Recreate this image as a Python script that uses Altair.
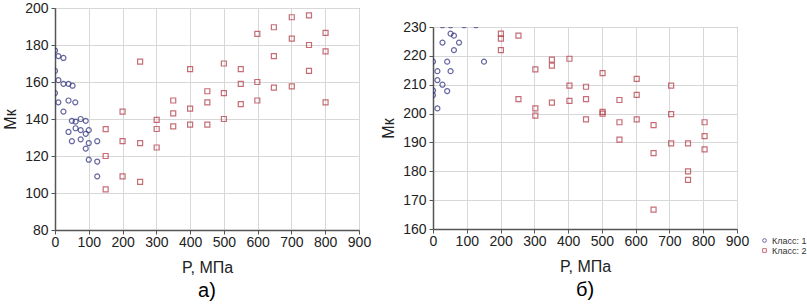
import altair as alt
import pandas as pd

# Panel a) data
a1_x = [0, 10, 25, 0, 10, 25, 40, 52, 0, 10, 60, 40, 25, 50, 61, 76, 91, 61, 76, 100, 40, 91, 50, 76, 100, 125, 91, 100, 125, 125]
a1_y = [177, 174, 173, 166, 161, 159, 159, 158, 154, 149, 149, 150, 144, 139, 138.6, 140, 139, 135, 134, 134, 133, 132, 128, 129, 127, 128, 124, 118, 117, 109]
a2_x = [150, 150, 150, 200, 200, 200, 252, 252, 252, 301, 301, 301, 350, 350, 350, 400, 400, 400, 451, 451, 451, 500, 500, 500, 550, 550, 550, 599, 599, 599, 648, 648, 648, 701, 701, 701, 752, 752, 752, 801, 801, 801]
a2_y = [134.5, 120, 102, 144, 128, 109, 171, 127, 106, 139.5, 134.6, 124.6, 150, 143, 136, 167, 145.6, 137, 155, 149, 137, 170, 154, 140, 167, 159, 148, 186, 160, 150, 189.6, 174, 157, 195, 183.5, 157.6, 196, 180, 166, 186.5, 176.6, 149]

# Panel б) data
b1_x = [28, 52, 92, 127, 52, 62, 28, 77, 62, 0, 42, 151, 13, 52, 13, 28, 0, 42, 0, 13]
b1_y = [230.6, 230.6, 230.6, 230.6, 227.7, 227, 224.6, 224.6, 222, 218, 218, 218, 214.7, 214.7, 211.6, 210, 208, 207.8, 206.4, 201.8]
b2_x = [201, 201, 201, 253, 253, 303, 303, 303, 352, 352, 352, 404, 404, 404, 453, 453, 453, 502, 502, 502, 552, 552, 552, 603, 603, 603, 653, 653, 653, 705, 705, 705, 755, 755, 755, 804, 804, 804]
b2_y = [227.7, 226, 222, 227, 205, 215.3, 201.8, 199.3, 218.7, 216.6, 203.8, 219, 209.7, 204.4, 209.3, 205, 198, 214, 200.6, 200, 204.7, 197, 191, 212, 206.5, 198, 196, 186.3, 166.7, 209.7, 199.8, 189.7, 189.7, 180, 177, 197, 192.2, 187.6]

classes = ["Класс: 1", "Класс: 2"]
x_ticks = [0, 100, 200, 300, 400, 500, 600, 700, 800, 900]

def frame(xs1, ys1, xs2, ys2):
    return pd.DataFrame({
        "P": xs1 + xs2,
        "M": ys1 + ys2,
        "cls": [classes[0]] * len(xs1) + [classes[1]] * len(xs2),
    })

dfa = frame(a1_x, a1_y, a2_x, a2_y)
dfb = frame(b1_x, b1_y, b2_x, b2_y)

FONT = "Liberation Sans"
color_scale = alt.Scale(domain=classes, range=["#26287a", "#b0303c"])
shape_scale = alt.Scale(domain=classes, range=["circle", "square"])

LEG = alt.Legend(title=None, orient="none", legendX=705, legendY=228,
                 labelFontSize=9, labelFont=FONT, labelColor="#333",
                 symbolSize=14, symbolStrokeWidth=1, rowPadding=0,
                 labelOffset=3)

def panel(df, ydom, yticks, h, label):
    return alt.Chart(df).mark_point(size=25, strokeWidth=1.2, filled=False, clip=True).encode(
        x=alt.X("P:Q", scale=alt.Scale(domain=[0, 900], nice=False),
                axis=alt.Axis(values=x_ticks, title="P, МПа", titleFontSize=16,
                              titleFontWeight="normal", titlePadding=10,
                              labelOverlap=False, labelFlush=False, labelPadding=1)),
        y=alt.Y("M:Q", scale=alt.Scale(domain=ydom, nice=False, zero=False),
                axis=alt.Axis(values=yticks, title="Мк", titleFontSize=16,
                              titleFontWeight="normal", titlePadding=6,
                              labelOverlap=False)),
        color=alt.Color("cls:N", scale=color_scale, legend=LEG),
        shape=alt.Shape("cls:N", scale=shape_scale, legend=LEG),
    ).properties(
        width=304, height=h,
        title=alt.TitleParams(label, orient="bottom", fontSize=20,
                              fontWeight="normal", font=FONT, offset=6),
    )

left = panel(dfa, [80, 200], [80, 100, 120, 140, 160, 180, 200], 222, "а)")
right = panel(dfb, [160, 230], [160, 170, 180, 190, 200, 210, 220, 230], 202, "б)")

spacer = alt.Chart(pd.DataFrame({"s": [0]})).mark_text(text="").encode(
    x=alt.value(0), y=alt.value(0)
).properties(width=1, height=1, view=alt.ViewBackground(strokeOpacity=0))

right_col = alt.vconcat(spacer, right, spacing=6)

chart = alt.hconcat(left, right_col, spacing=8).configure(
    font=FONT, padding={"left": 2, "top": 0, "right": 0, "bottom": 0},
).configure_view(stroke="#777", strokeWidth=1).configure_axis(
    labelFontSize=14, labelFont=FONT, labelColor="#222", titleFont=FONT, titleColor="#222",
    gridColor="#d8d8d8", domainColor="#555", domainWidth=1.5, tickColor="#555",
    tickSize=4, labelPadding=3,
)

chart.save("out.html", embed_options={"renderer": "svg", "actions": False})
